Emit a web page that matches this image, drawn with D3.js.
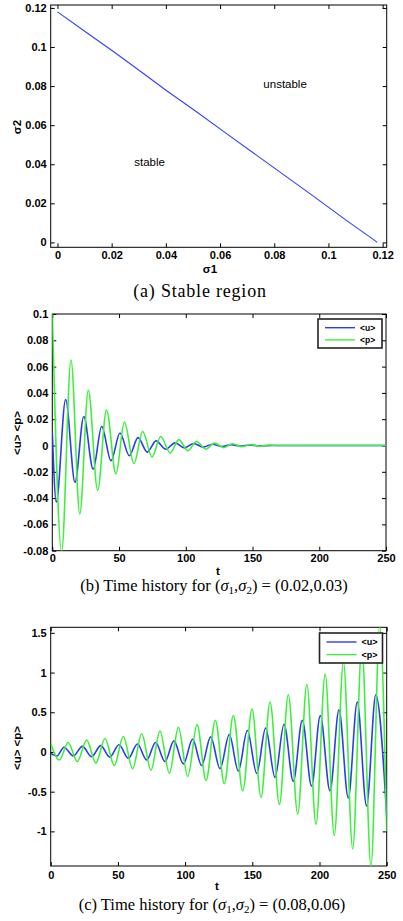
<!DOCTYPE html>
<html>
<head>
<meta charset="utf-8">
<script src="https://cdn.jsdelivr.net/npm/d3@7"></script>
<style>
  body { margin: 0; background: #fff; }
  svg { display: block; }
  .tick text { font-family: "Liberation Sans", Arial, sans-serif; font-weight: bold; font-size: 11px; fill: #000; }
  .lbl { font-family: "Liberation Sans", Arial, sans-serif; font-weight: bold; font-size: 11.5px; }
  .cap { font-family: "Liberation Serif", "Times New Roman", serif; font-size: 16.5px; }
  .leg { font-family: "Liberation Sans", Arial, sans-serif; font-weight: bold; font-size: 8.5px; }
</style>
</head>
<body>
<div id="fig"></div>
<script>

// (a) stable region boundary
var sigma1 = [0, 0.0107, 0.0205, 0.0316, 0.0403, 0.0513, 0.0624, 0.0722, 0.0833, 0.0943, 0.1016, 0.1066, 0.1164, 0.118];
var sigma2 = [0.118, 0.1074, 0.0978, 0.0866, 0.0776, 0.0669, 0.0557, 0.0459, 0.0348, 0.0238, 0.0164, 0.0113, 0.0017, 0];
var regionText = ["unstable", "stable"];
var regionS1 = [0.084, 0.034];
var regionS2 = [0.081, 0.041];
var ticksA = [0, 0.02, 0.04, 0.06, 0.08, 0.1, 0.12];

// (b) sigma = (0.02, 0.03), extrema
var tB_u = [0, 3, 10, 17, 23.6, 30.6, 37, 44, 50.7, 57.7, 64.2, 71.2, 77.7, 85, 92, 99, 106, 113, 120, 127, 134, 141, 148, 155, 165, 180, 250];
var uB   = [0.01, -0.043, 0.035, -0.028, 0.022, -0.018, 0.0145, -0.0115, 0.0095, -0.0078, 0.006, -0.005, 0.0035, -0.0028,
            0.002, -0.0018, 0.0015, -0.0012, 0.001, -0.0008, 0.0006, -0.0005, 0.0004, -0.0003, 0, 0, 0];
var tB_p = [0, 7, 14, 20.6, 27, 34, 40.6, 47.7, 54, 61.2, 67.7, 74.7, 81.2, 88.3, 94.8, 101.5, 108, 115, 121.5, 128.5, 135, 142, 148.5, 155.5, 162, 170, 250];
var pB   = [0.102, -0.081, 0.065, -0.052, 0.042, -0.034, 0.027, -0.0215, 0.0178, -0.0137, 0.0107, -0.0087, 0.0068, -0.0056,
            0.0045, -0.0040, 0.003, -0.0028, 0.0018, -0.0016, 0.0013, -0.001, 0.0008, -0.0006, 0.0004, 0, 0];
var yTicksB = [-0.08, -0.06, -0.04, -0.02, 0, 0.02, 0.04, 0.06, 0.08, 0.1];

// (c) sigma = (0.08, 0.06)
var tC_u = [0, 4.6, 9.9, 16.8, 23.6, 30.5, 37.2, 44, 50.8, 57.8, 64.5, 71.4, 78.1, 85, 91.7, 98.7, 105.6, 112.3, 119, 126,
            132.9, 139.6, 146.3, 153.3, 159.9, 166.9, 173.6, 180.5, 187.2, 194.1, 200.6, 207.8, 214.5, 221.4, 228.1, 235, 241.9, 250];
var uC   = [-0.02, -0.05, 0.06, -0.05, 0.07, -0.06, 0.08, -0.065, 0.09, -0.08, 0.10, -0.10, 0.12, -0.12, 0.14, -0.15, 0.16, -0.17, 0.19, -0.21,
            0.22, -0.24, 0.27, -0.27, 0.30, -0.32, 0.35, -0.37, 0.40, -0.43, 0.46, -0.49, 0.53, -0.58, 0.63, -0.68, 0.72, -0.8];
var tC_p = [0, 6.4, 13, 19.8, 26.8, 33.6, 40.4, 47.3, 54, 61, 67.7, 74.6, 81.3, 88.3, 95, 102, 108.9, 115.6, 122.5, 129.2,
            135.9, 142.9, 149.8, 156.5, 163.2, 170.2, 176.8, 183.8, 190.6, 197.4, 204.2, 211, 217.8, 224.7, 231.5, 238.3, 244.8, 250];
var pC   = [0.11, -0.10, 0.12, -0.12, 0.15, -0.14, 0.17, -0.17, 0.195, -0.21, 0.23, -0.23, 0.265, -0.27, 0.31, -0.31, 0.345, -0.36, 0.40, -0.40,
            0.46, -0.49, 0.54, -0.57, 0.63, -0.66, 0.72, -0.78, 0.85, -0.91, 0.98, -1.05, 1.14, -1.22, 1.32, -1.44, 1.58, -1.0];
var yTicksC = [-1, -0.5, 0, 0.5, 1, 1.5];
var tTicks = [0, 50, 100, 150, 200, 250];

var legendNames = ["<u>", "<p>"];
var blue = "#2a3cf0", green = "#3ef03e";

var svg = d3.select("#fig").append("svg").attr("width", 403).attr("height", 921);

function fmt(d) { return d === 0 ? "0" : String(+d.toFixed(2)); }

function panel(id, box, xd, yd, xt, yt) {
    var x = d3.scaleLinear().domain(xd).range([box.l, box.r]);
    var y = d3.scaleLinear().domain(yd).range([box.b, box.t]);
    var g = svg.append("g");

    g.append("clipPath").attr("id", id).append("rect")
        .attr("x", box.l).attr("y", box.t).attr("width", box.r - box.l).attr("height", box.b - box.t);

    g.append("g").attr("transform", "translate(0," + box.b + ")")
        .call(d3.axisBottom(x).tickValues(xt).tickFormat(fmt).tickSize(-4).tickPadding(box.xpad));
    g.append("g").attr("transform", "translate(0," + box.t + ")")
        .call(d3.axisTop(x).tickValues(xt).tickFormat("").tickSize(-4));
    g.append("g").attr("transform", "translate(" + box.l + ",0)")
        .call(d3.axisLeft(y).tickValues(yt).tickFormat(fmt).tickSize(-4).tickPadding(4));
    g.append("g").attr("transform", "translate(" + box.r + ",0)")
        .call(d3.axisRight(y).tickValues(yt).tickFormat("").tickSize(-4));
    g.selectAll(".domain").remove();

    g.append("rect").attr("x", box.l).attr("y", box.t)
        .attr("width", box.r - box.l).attr("height", box.b - box.t)
        .attr("fill", "none").attr("stroke", "#000").attr("stroke-width", 1);

    return {g: g, x: x, y: y};
}

function series(p, id, ts, vs, color, w) {
    var line = d3.line()
        .x(function(d) { return p.x(d[0]); })
        .y(function(d) { return p.y(d[1]); })
        .curve(d3.curveMonotoneX);
    p.g.append("path")
        .datum(d3.zip(ts, vs))
        .attr("clip-path", "url(#" + id + ")")
        .attr("fill", "none").attr("stroke", color).attr("stroke-width", w)
        .attr("d", line);
}

function legend(p, bx, by, bw, bh, fs) {
    var lg = p.g.append("g").attr("transform", "translate(" + bx + "," + by + ")");
    lg.append("rect").attr("width", bw).attr("height", bh)
        .attr("fill", "#fff").attr("stroke", "#222").attr("stroke-width", 1.6);
    [blue, green].forEach(function(c, i) {
        var yy = bh * (0.3 + 0.42 * i);
        lg.append("line").attr("x1", 7).attr("x2", 37).attr("y1", yy).attr("y2", yy)
            .attr("stroke", c).attr("stroke-width", 1.4);
        lg.append("text").attr("class", "leg").attr("x", 42).attr("y", yy).attr("dy", "0.35em")
            .style("font-size", fs + "px").text(legendNames[i]);
    });
}

function caption(x, y, lead, vals, size, ls) {
    var t = svg.append("text").attr("class", "cap").attr("x", x).attr("y", y).attr("text-anchor", "middle");
    if (size) t.style("font-size", size + "px").style("letter-spacing", ls + "px");
    t.append("tspan").text(lead);
    if (!vals) return;
    t.append("tspan").text("(");
    t.append("tspan").attr("font-style", "italic").text("σ");
    t.append("tspan").attr("font-size", "11px").attr("dy", 3).text("1");
    t.append("tspan").attr("dy", -3).text(",");
    t.append("tspan").attr("font-style", "italic").text("σ");
    t.append("tspan").attr("font-size", "11px").attr("dy", 3).text("2");
    t.append("tspan").attr("dy", -3).text(") = " + vals);
}

function ylabel(x, y, s) {
    svg.append("text").attr("class", "lbl").attr("text-anchor", "middle")
        .attr("transform", "translate(" + x + "," + y + ") rotate(-90)").text(s);
}
function xlabel(x, y, s) {
    svg.append("text").attr("class", "lbl").attr("text-anchor", "middle").attr("x", x).attr("y", y).text(s);
}

// ---- (a)
var pa = panel("clipA", {l: 50.7, r: 386.7, t: 5, b: 247.3, xpad: 4}, [-0.0025, 0.1215], [-0.0025, 0.1215], ticksA, ticksA);
pa.g.append("path")
    .datum(d3.zip(sigma1, sigma2))
    .attr("fill", "none").attr("stroke", "#3040ff").attr("stroke-width", 1.1)
    .attr("d", d3.line().x(function(d) { return pa.x(d[0]); }).y(function(d) { return pa.y(d[1]); }));
pa.g.selectAll(".region").data(regionText).enter().append("text")
    .attr("x", function(d, i) { return pa.x(regionS1[i]); })
    .attr("y", function(d, i) { return pa.y(regionS2[i]); })
    .attr("dy", "0.35em").attr("text-anchor", "middle")
    .style("font-family", "Liberation Sans, Arial, sans-serif").style("font-size", "11.5px")
    .text(function(d) { return d; });
ylabel(21, 127, "σ2");
xlabel(210, 273, "σ1");
caption(200, 297, "(a) Stable region", null, 18, 0.8);

// ---- (b)
var pb = panel("clipB", {l: 52.3, r: 386, t: 314, b: 550.7, xpad: 4}, [0, 250], [-0.08, 0.1], tTicks, yTicksB);
series(pb, "clipB", tB_u, uB, blue, 1.6);
series(pb, "clipB", tB_p, pB, green, 1.6);
legend(pb, 318, 319, 64, 29, 8.5);
ylabel(21, 433, "<u> <p>");
xlabel(218, 574.5, "t");
caption(214, 591, "(b) Time history for ", "(0.02,0.03)");

// ---- (c)
var pc = panel("clipC", {l: 50.7, r: 386.7, t: 627.3, b: 866, xpad: 5}, [0, 250], [-1.436, 1.57], tTicks, yTicksC);
series(pc, "clipC", tC_u, uC, blue, 1.6);
series(pc, "clipC", tC_p, pC, green, 1.6);
legend(pc, 319.5, 633, 63, 30, 9);
ylabel(21, 748, "<u> <p>");
xlabel(217, 890, "t");
caption(212, 910, "(c) Time history for ", "(0.08,0.06)");

</script>
</body>
</html>
